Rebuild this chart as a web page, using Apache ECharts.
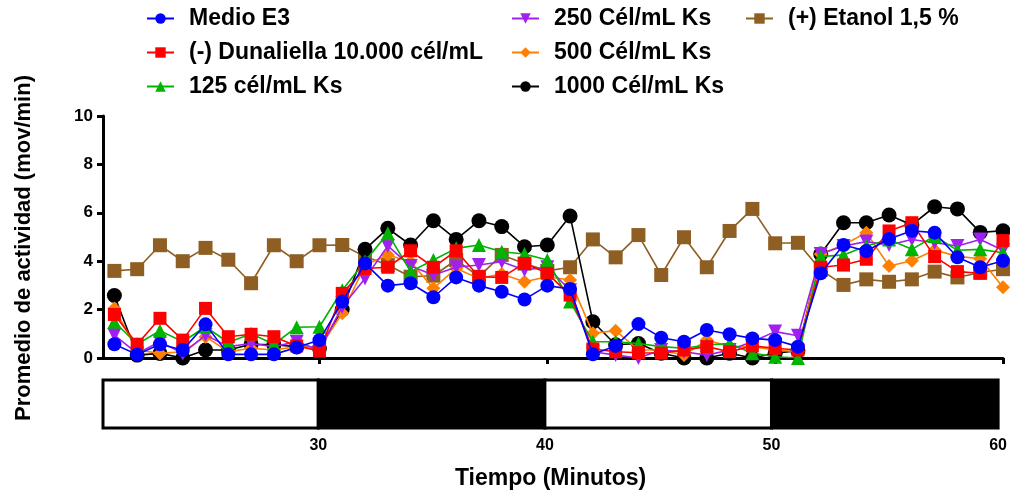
<!DOCTYPE html>
<html>
<head>
<meta charset="utf-8">
<script src="https://cdn.jsdelivr.net/npm/echarts@6/dist/echarts.min.js"></script>
<style>
  html, body { margin: 0; padding: 0; background: #fff; }
  #chart { width: 1010px; height: 495px; }
</style>
</head>
<body>
<div id="chart"></div>
<script>
// minutos 21..60
const minutos = [21, 22, 23, 24, 25, 26, 27, 28, 29, 30,
  31, 32, 33, 34, 35, 36, 37, 38, 39, 40,
  41, 42, 43, 44, 45, 46, 47, 48, 49, 50,
  51, 52, 53, 54, 55, 56, 57, 58, 59, 60]

const medioE3 = [0.57, 0.14, 0.57, 0.33, 1.39, 0.15, 0.15, 0.15, 0.43, 0.74,
  2.33, 3.91, 2.99, 3.09, 2.51, 3.33, 2.99, 2.74, 2.42, 2.99,
  2.85, 0.15, 0.5, 1.4, 0.84, 0.67, 1.16, 0.98, 0.81, 0.74,
  0.47, 3.5, 4.67, 4.42, 4.92, 5.26, 5.18, 4.16, 3.75, 4.02]

const dunaliella = [1.8, 0.57, 1.64, 0.74, 2.05, 0.88, 0.98, 0.88, 0.5, 0.29,
  2.67, 3.7, 3.75, 4.43, 3.75, 4.43, 3.36, 3.33, 3.91, 3.5,
  2.6, 0.37, 0.26, 0.22, 0.2, 0.33, 0.47, 0.26, 0.5, 0.4,
  0.33, 3.75, 3.84, 4.08, 5.25, 5.59, 4.19, 3.57, 3.5, 4.85]

const ks125 = [1.5, 0.57, 1.13, 0.67, 1.29, 0.64, 1.0, 0.57, 1.27, 1.29,
  2.8, 4.0, 5.15, 3.57, 4.05, 4.53, 4.67, 4.39, 4.3, 4.05,
  2.33, 0.67, 0.67, 0.6, 0.47, 0.4, 0.54, 0.6, 0.2, 0.05,
  0.0, 4.19, 4.26, 4.63, 4.9, 4.49, 5.04, 4.45, 4.49, 4.35]

const ks250 = [0.95, 0.19, 0.67, 0.19, 0.95, 0.47, 0.6, 0.47, 0.67, 0.33,
  2.12, 3.29, 4.63, 3.8, 3.43, 3.75, 3.84, 3.98, 3.64, 3.75,
  2.8, 0.26, 0.12, 0.0, 0.33, 0.26, 0.12, 0.33, 0.67, 1.09,
  0.92, 4.3, 4.63, 4.81, 4.67, 4.9, 4.76, 4.63, 4.9, 4.45]

const ks500 = [2.05, 0.33, 0.19, 0.26, 0.88, 0.26, 0.4, 0.33, 0.47, 0.4,
  1.85, 3.84, 4.26, 3.98, 2.88, 3.7, 3.29, 3.47, 3.15, 3.36,
  3.22, 1.02, 1.13, 0.33, 0.33, 0.12, 0.74, 0.47, 0.47, 0.33,
  0.26, 4.3, 4.67, 5.18, 3.8, 4.02, 4.46, 4.2, 4.1, 2.92]

const ks1000 = [2.58, 0.12, 0.19, 0.0, 0.33, 0.33, 0.57, 0.55, 0.47, 0.4,
  2.0, 4.49, 5.36, 4.67, 5.67, 4.9, 5.67, 5.43, 4.6, 4.67,
  5.87, 1.5, 0.55, 0.6, 0.2, 0.0, 0.0, 0.2, 0.0, 0.2,
  0.3, 4.3, 5.59, 5.59, 5.91, 5.5, 6.25, 6.16, 5.19, 5.26]

const etanol = [3.6, 3.67, 4.66, 4.0, 4.55, 4.06, 3.09, 4.66, 4.0, 4.66,
  4.67, 4.19, 3.84, 3.36, 3.4, 4.05, 3.36, 4.26, 3.9, 3.6,
  3.75, 4.9, 4.16, 5.08, 3.43, 4.99, 3.75, 5.25, 6.16, 4.74,
  4.76, 3.64, 3.02, 3.25, 3.15, 3.25, 3.57, 3.33, 3.53, 3.67]

// periodos luz / oscuridad: [inicio, fin, oscuro]
const periodos = [[20.5, 30, 0], [30, 40, 1], [40, 50, 0], [50, 60, 1]]

const xTicks = [30, 40, 50, 60]

const FONT = 'Liberation Sans'

// nombre, datos, color, simbolo, tamaño, rotacion
const grupos = [
  ['Medio E3', medioE3, '#0000ff', 'circle', 14, 0],
  ['(-) Dunaliella 10.000 cél/mL', dunaliella, '#ff0000', 'rect', 13, 0],
  ['125 cél/mL Ks', ks125, '#00b400', 'triangle', 14, 0],
  ['250 Cél/mL Ks', ks250, '#a020f0', 'triangle', 14, 180],
  ['500 Cél/mL Ks', ks500, '#ff8000', 'diamond', 14, 0],
  ['1000 Cél/mL Ks', ks1000, '#000000', 'circle', 15, 0],
  ['(+) Etanol 1,5 %', etanol, '#8e5e22', 'rect', 14, 0],
]

const lineSeries = grupos.map((g, i) => ({
  name: g[0],
  type: 'line',
  xAxisIndex: 0,
  yAxisIndex: 0,
  data: minutos.map((m, j) => [m, g[1][j]]),
  symbol: g[3],
  symbolSize: g[4],
  symbolRotate: g[5],
  showSymbol: true,
  z: 10 - i,
  itemStyle: { color: g[2] },
  lineStyle: { color: g[2], width: 1.6 },
  emphasis: { disabled: true },
  animation: false,
}))

const legendBase = {
  orient: 'vertical',
  padding: 0,
  itemWidth: 27,
  itemHeight: 13,
  itemGap: 11,
  textStyle: {
    fontFamily: FONT,
    fontWeight: 'bold',
    fontSize: 23,
    lineHeight: 23,
    color: '#000',
    padding: [0, 0, 0, 10],
  },
}

const option = {
  backgroundColor: '#fff',
  animation: false,
  legend: [
    Object.assign({ left: 146, top: 7, data: grupos.slice(0, 3).map(g => g[0]) }, legendBase),
    Object.assign({ left: 511, top: 7, data: grupos.slice(3, 6).map(g => g[0]) }, legendBase),
    Object.assign({ left: 745, top: 7, data: grupos.slice(6).map(g => g[0]) }, legendBase),
  ],
  grid: [
    { left: 103, right: 7, top: 116, height: 242 },
    { left: 103, right: 7, top: 380, height: 48 },
  ],
  xAxis: [
    {
      gridIndex: 0,
      type: 'value',
      min: 20.5,
      max: 60,
      axisLine: { lineStyle: { color: '#000', width: 3 } },
      axisTick: { show: true, length: 6, lineStyle: { width: 3, color: '#000' }, customValues: xTicks },
      axisLabel: { show: false },
      splitLine: { show: false },
    },
    {
      gridIndex: 1,
      type: 'value',
      min: 20.5,
      max: 60,
      axisLine: { show: false },
      axisTick: { show: false },
      axisLabel: {
        customValues: xTicks,
        margin: 10,
        fontFamily: FONT,
        fontWeight: 'bold',
        fontSize: 16,
        color: '#000',
      },
      splitLine: { show: false },
      name: 'Tiempo (Minutos)',
      nameLocation: 'middle',
      nameGap: 39,
      nameTextStyle: { fontFamily: FONT, fontWeight: 'bold', fontSize: 23, color: '#000' },
    },
  ],
  yAxis: [
    {
      gridIndex: 0,
      type: 'value',
      min: 0,
      max: 10,
      interval: 2,
      axisLine: { show: true, lineStyle: { color: '#000', width: 3 } },
      axisTick: { show: true, length: 6, lineStyle: { width: 3, color: '#000' } },
      axisLabel: { margin: 10, fontFamily: FONT, fontWeight: 'bold', fontSize: 17, color: '#000' },
      splitLine: { show: false },
      name: 'Promedio de actividad (mov/min)',
      nameLocation: 'middle',
      nameGap: 68,
      nameTextStyle: {
        fontFamily: FONT, fontWeight: 'bold', fontSize: 22, color: '#000',
        padding: [0, 22, 0, 0],
      },
    },
    {
      gridIndex: 1,
      type: 'value',
      min: 0,
      max: 1,
      show: false,
    },
  ],
  series: lineSeries.concat([{
    type: 'custom',
    xAxisIndex: 1,
    yAxisIndex: 1,
    data: periodos,
    encode: { x: [0, 1] },
    silent: true,
    renderItem: (params, api) => {
      const p0 = api.coord([api.value(0), 1])
      const p1 = api.coord([api.value(1), 0])
      return {
        type: 'rect',
        shape: { x: p0[0], y: p0[1], width: p1[0] - p0[0], height: p1[1] - p0[1] },
        style: { fill: api.value(2) ? '#000' : '#fff', stroke: '#000', lineWidth: 3 },
      }
    },
  }]),
}

const chart = echarts.init(document.getElementById('chart'), null, { renderer: 'canvas' })
chart.setOption(option)
</script>
</body>
</html>
